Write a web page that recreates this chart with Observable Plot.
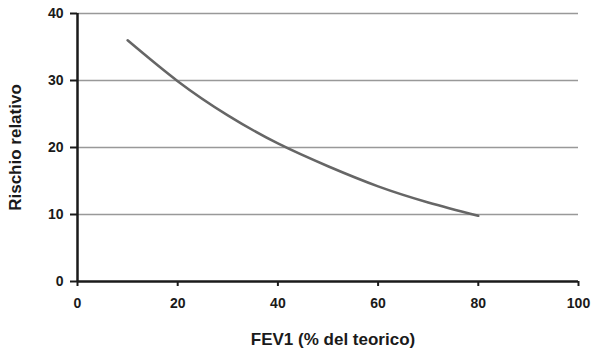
<!DOCTYPE html>
<html>
<head>
<meta charset="utf-8">
<script src="https://cdn.jsdelivr.net/npm/d3@7"></script>
<script src="https://cdn.jsdelivr.net/npm/@observablehq/plot@0.6"></script>
<style>
  html, body { margin: 0; padding: 0; background: #fff; }
  svg { display: block; }
</style>
</head>
<body>
<div id="chart"></div>
<script>
const fev = [10, 20, 30, 40, 50, 60, 70, 80];
const rischio = [36, 29.9, 24.8, 20.6, 17.2, 14.2, 11.8, 9.8];
const xTicks = [0, 20, 40, 60, 80, 100];
const yTicks = [0, 10, 20, 30, 40];
const xTitle = "FEV1 (% del teorico)";
const yTitle = "Rischio relativo";

const data = fev.map((x, i) => ({x, y: rischio[i]}));

const chart = Plot.plot({
  width: 600,
  height: 353,
  marginLeft: 77,
  marginRight: 22,
  marginTop: 13,
  marginBottom: 72,
  style: {fontFamily: "'Liberation Sans', Arial, sans-serif", background: "#fff", overflow: "visible"},
  x: {domain: [0, 100]},
  y: {domain: [0, 40]},
  marks: [
    Plot.gridY(yTicks.filter(d => d > 0), {stroke: "#999", strokeOpacity: 1, strokeWidth: 1.5}),
    Plot.line(data, {x: "x", y: "y", stroke: "#666", strokeWidth: 2.5, curve: "natural"}),
    Plot.axisY({ticks: yTicks, tickSize: 7, tickPadding: 7, fontSize: 14, fontWeight: "bold", stroke: "#1a1a1a", strokeWidth: 2, color: "#1a1a1a", label: null}),
    Plot.axisX({ticks: xTicks, tickSize: 5, tickPadding: 12, fontSize: 14, fontWeight: "bold", stroke: "#1a1a1a", strokeWidth: 2, color: "#1a1a1a", label: null}),
    Plot.ruleX([0], {stroke: "#1a1a1a", strokeWidth: 2.5}),
    Plot.ruleY([0], {stroke: "#1a1a1a", strokeWidth: 2.5}),
    Plot.text([yTitle], {frameAnchor: "left", dx: -62, rotate: -90, text: d => d, fontSize: 17, fontWeight: "bold", fill: "#1a1a1a", textAnchor: "middle"}),
    Plot.text([xTitle], {frameAnchor: "bottom", dx: 5, dy: 63, text: d => d, fontSize: 17, fontWeight: "bold", fill: "#1a1a1a", textAnchor: "middle"})
  ]
});
document.getElementById("chart").append(chart);
</script>
</body>
</html>
